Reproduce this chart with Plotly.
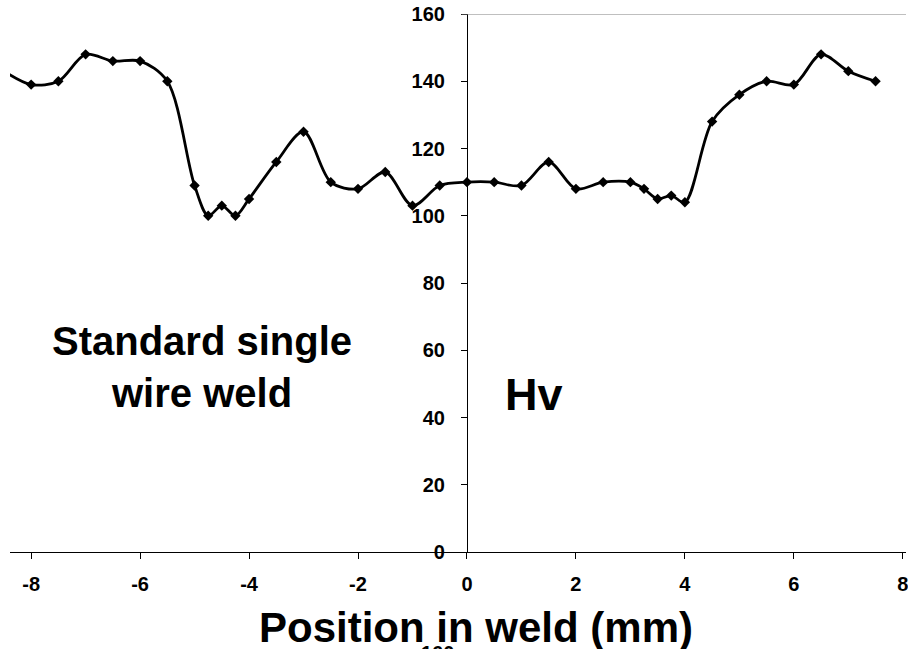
import plotly.graph_objects as go

positions = [-8.5, -8, -7.5, -7, -6.5, -6, -5.5, -5, -4.75, -4.5, -4.25, -4, -3.5, -3, -2.5, -2, -1.5, -1, -0.5,
             0, 0.5, 1, 1.5, 2, 2.5, 3, 3.25, 3.5, 3.75, 4, 4.5, 5, 5.5, 6, 6.5, 7, 7.5]
hardness = [143, 139, 140, 148, 146, 146, 140, 109, 100, 103, 100, 105, 116, 125, 110, 108, 113, 103, 109,
            110, 110, 109, 116, 108, 110, 110, 108, 105, 106, 104, 128, 136, 140, 139, 148, 143, 140]

x_ticks = [-8, -6, -4, -2, 0, 2, 4, 6, 8]
x_tick_labels = ["-8", "-6", "-4", "-2", "0", "2", "4", "6", "8"]
y_ticks = [0, 20, 40, 60, 80, 100, 120, 140, 160]
y_tick_labels = ["0", "20", "40", "60", "80", "100", "120", "140", "160"]

FONT = "Arial, Liberation Sans, sans-serif"
W, H = 908, 649
ML, MR, MT, MB = 10, 0, 14, 97
PW, PH = W - ML - MR, H - MT - MB
x_range = [-8.388, 8.059]
y_range = [0, 160]
x0_frac = (0 - x_range[0]) / (x_range[1] - x_range[0])


def px(xp):
    return (xp - ML) / PW


def py(yp):
    return (H - MB - yp) / PH


fig = go.Figure()
fig.add_trace(go.Scatter(
    x=positions, y=hardness, mode="lines+markers",
    line=dict(color="black", width=2.8, shape="spline", smoothing=0.9),
    marker=dict(symbol="diamond", size=8, color="black"),
    cliponaxis=True, showlegend=False,
))

fig.update_layout(
    width=W, height=H,
    margin=dict(l=ML, r=MR, t=MT, b=MB),
    plot_bgcolor="white", paper_bgcolor="white",
    font=dict(family=FONT, color="black"),
    xaxis=dict(range=x_range, tickvals=x_ticks, ticktext=["<b>%s</b>" % t for t in x_tick_labels],
               ticks="outside", ticklen=6, tickcolor="black",
               showline=True, linecolor="black", linewidth=1, showgrid=False, zeroline=False,
               tickfont=dict(size=20, family=FONT), ticklabelstandoff=8,
               ticklabeloverflow="allow"),
    yaxis=dict(range=y_range, tickvals=y_ticks, ticktext=["<b>%s</b>" % t for t in y_tick_labels],
               ticks="outside", ticklen=6, tickcolor="black",
               showline=True, linecolor="black", linewidth=1, showgrid=False, zeroline=False,
               anchor="free", position=x0_frac, ticklabelstandoff=12,
               tickfont=dict(size=20, family=FONT)),
    shapes=[dict(type="line", xref="x", yref="y", x0=-0.1, x1=x_range[1], y0=160, y1=160,
                 line=dict(color="#808080", width=1))],
    annotations=[
        dict(text="<b>Standard single<br>wire weld</b>", xref="paper", yref="paper",
             x=px(202), y=py(367), xanchor="center", yanchor="middle", showarrow=False,
             font=dict(size=40, family=FONT), align="center"),
        dict(text="<b>Hv</b>", xref="paper", yref="paper",
             x=px(535), y=py(394), xanchor="center", yanchor="middle", showarrow=False,
             font=dict(size=45, family=FONT)),
        dict(text="<b>Position in weld (mm)</b>", xref="paper", yref="paper",
             x=px(477), y=py(627), xanchor="center", yanchor="middle", showarrow=False,
             font=dict(size=42, family=FONT)),
        dict(text="<b>160</b>", xref="paper", yref="paper",
             x=px(438), y=py(653), xanchor="center", yanchor="middle", showarrow=False,
             font=dict(size=20, family=FONT)),
    ],
)

fig.write_html("out.html")
